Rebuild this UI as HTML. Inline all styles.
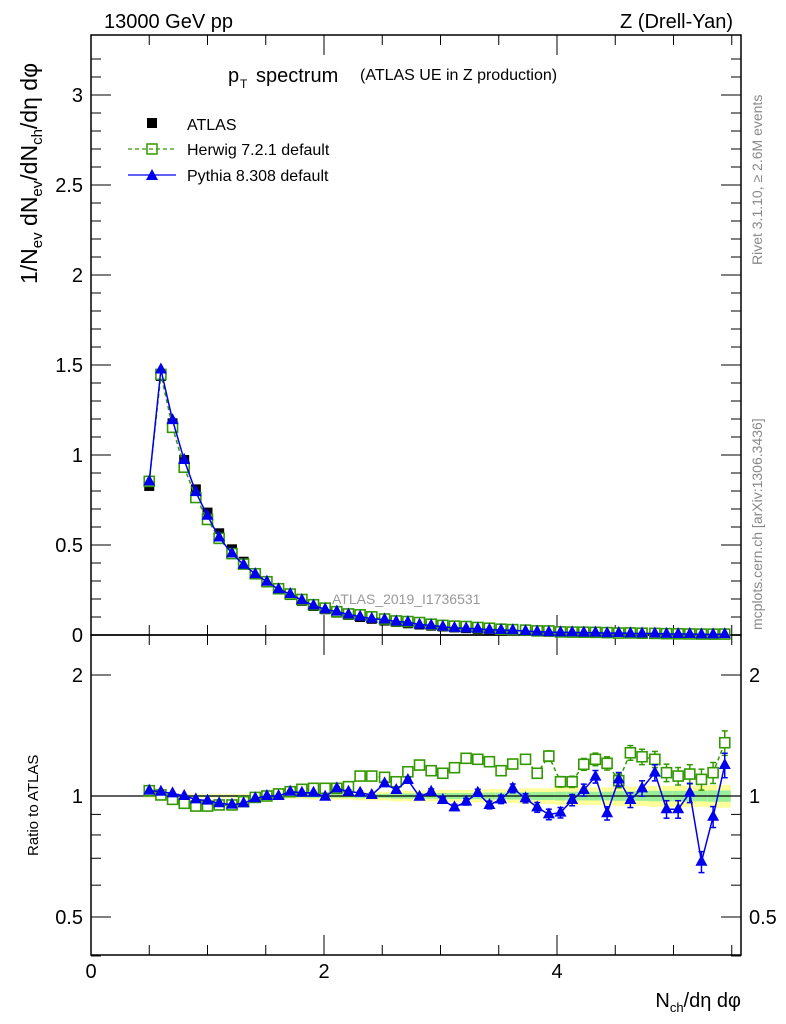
<!DOCTYPE html>
<html><head><meta charset="utf-8"><style>
body{margin:0;background:#fff}
svg{display:block;font-family:"Liberation Sans",sans-serif}
</style></head><body>
<svg id="c" width="786" height="1024" viewBox="0 0 786 1024">
<g id="bands"></g><g id="axes"></g><g id="marks"></g>
<text x="104" y="28" font-size="20">13000 GeV pp</text>
<text x="733" y="28" font-size="20" text-anchor="end">Z (Drell-Yan)</text>
<g>
<text x="228" y="82" font-size="20">p</text><text x="240" y="88" font-size="12">T</text>
<text x="256" y="82" font-size="20">spectrum</text>
<text x="360" y="80" font-size="16">(ATLAS UE in Z production)</text></g>
<g>
<rect x="147" y="118" width="10" height="10" fill="#000"/>
<text x="187" y="130" font-size="16">ATLAS</text>
<line x1="128" y1="149" x2="176" y2="149" stroke="#339900" stroke-dasharray="4,3" stroke-width="1.3"/>
<rect x="147" y="144" width="10" height="10" fill="none" stroke="#339900" stroke-width="1.5"/>
<text x="187" y="155" font-size="16">Herwig 7.2.1 default</text>
<line x1="128" y1="175" x2="176" y2="175" stroke="#0000ee" stroke-width="1.3"/>
<polygon points="152,169 146,180 158,180" fill="#0000ee"/>
<text x="187" y="181" font-size="16">Pythia 8.308 default</text></g>
<text x="332" y="604" font-size="14" fill="#999">ATLAS_2019_I1736531</text>
<text transform="translate(762,265) rotate(-90)" font-size="14" fill="#888">Rivet 3.1.10, ≥ 2.6M events</text>
<text transform="translate(762,630) rotate(-90)" font-size="14" fill="#888">mcplots.cern.ch [arXiv:1306.3436]</text>
<g transform="translate(37,284) rotate(-90)">
<text x="0" y="0" font-size="23">1/N<tspan font-size="15" dy="5">ev</tspan><tspan dy="-5"> dN</tspan><tspan font-size="15" dy="5">ev</tspan><tspan dy="-5">/dN</tspan><tspan font-size="15" dy="5">ch</tspan><tspan dy="-5">/dη dφ</tspan></text></g>
<text transform="translate(38,856) rotate(-90)" font-size="15">Ratio to ATLAS</text>
<text x="741" y="1007" font-size="20" text-anchor="end">N<tspan font-size="13" dy="5">ch</tspan><tspan dy="-5">/dη dφ</tspan></text>
</svg>
<script>
const xs=[0.50,0.60,0.70,0.80,0.90,1.00,1.10,1.21,1.31,1.41,1.51,1.61,1.71,1.81,1.91,2.01,2.11,2.21,2.31,2.41,2.52,2.62,2.72,2.82,2.92,3.02,3.12,3.22,3.32,3.42,3.52,3.62,3.73,3.83,3.93,4.03,4.13,4.23,4.33,4.43,4.53,4.63,4.73,4.84,4.94,5.04,5.14,5.24,5.34,5.44];
const atlas=[0.828,1.439,1.176,0.972,0.809,0.68,0.565,0.476,0.407,0.343,0.296,0.254,0.222,0.19,0.161,0.143,0.124,0.111,0.1,0.09,0.08,0.072,0.065,0.058,0.052,0.047,0.042,0.038,0.034,0.031,0.028,0.025,0.022,0.020,0.018,0.016,0.015,0.013,0.012,0.011,0.010,0.009,0.008,0.0072,0.0065,0.0058,0.0052,0.0047,0.0042,0.0038];
const pythiaRatio=[1.031,1.025,1.015,1.0,0.981,0.974,0.959,0.952,0.959,0.987,1.0,1.0,1.025,1.019,1.019,0.996,1.045,1.025,1.019,1.006,1.075,1.035,1.096,0.996,1.025,0.977,0.937,0.968,1.019,0.950,0.981,1.045,0.987,0.937,0.900,0.909,0.977,1.035,1.117,0.906,1.10,0.977,1.045,1.143,0.927,0.927,1.019,0.686,0.888,1.194];
const herwigRatio=[1.031,1.006,0.981,0.959,0.944,0.944,0.950,0.950,0.968,0.992,1.0,1.012,1.025,1.039,1.045,1.045,1.045,1.055,1.121,1.121,1.113,1.085,1.149,1.194,1.156,1.139,1.176,1.241,1.234,1.217,1.156,1.201,1.234,1.139,1.257,1.085,1.085,1.199,1.234,1.206,1.092,1.281,1.252,1.234,1.143,1.121,1.134,1.10,1.143,1.357];
const atlasErr=[0.01,0.01,0.01,0.01,0.01,0.01,0.01,0.01,0.01,0.01,0.015,0.015,0.015,0.015,0.02,0.02,0.02,0.02,0.025,0.025,0.025,0.03,0.03,0.03,0.03,0.035,0.035,0.035,0.035,0.04,0.04,0.04,0.045,0.045,0.045,0.05,0.05,0.05,0.05,0.05,0.055,0.055,0.055,0.06,0.06,0.06,0.06,0.06,0.065,0.065];
const mcErr=[0.005,0.005,0.005,0.005,0.005,0.005,0.005,0.005,0.005,0.006,0.006,0.007,0.007,0.008,0.008,0.008,0.009,0.01,0.01,0.011,0.012,0.013,0.014,0.015,0.016,0.017,0.018,0.019,0.02,0.022,0.024,0.025,0.026,0.028,0.03,0.03,0.032,0.034,0.036,0.038,0.04,0.042,0.044,0.046,0.05,0.05,0.055,0.06,0.06,0.07];
const mainTicks=[0,0.5,1,1.5,2,2.5,3];const mainLabels=["0","0.5","1","1.5","2","2.5","3"];
const ratioTicks=[0.5,1,2];const ratioLabels=["0.5","1","2"];
const xTicks=[0,2,4];const xLabels=["0","2","4"];
const NS="http://www.w3.org/2000/svg";
const L=91,R=741,T=35,M=635,B=955;
const X=v=>L+v*116.5;
const Y=v=>M-v*180;
const YR=v=>796-Math.log2(v)*121;
function el(p,t,a){const e=document.createElementNS(NS,t);for(const k in a)e.setAttribute(k,a[k]);document.getElementById(p).appendChild(e);return e;}
for(let i=0;i<xs.length;i++){
 const x0=i==0?X(xs[0])-6:(X(xs[i-1])+X(xs[i]))/2, x1=i==xs.length-1?X(xs[i])+6:(X(xs[i])+X(xs[i+1]))/2;
 let e=el('bands','rect',{x:x0,y:YR(1+atlasErr[i]),width:x1-x0,height:YR(1-atlasErr[i])-YR(1+atlasErr[i]),fill:'#ffff99'});
 
 
 e=el('bands','rect',{x:x0,y:YR(1+atlasErr[i]/2),width:x1-x0,height:YR(1-atlasErr[i]/2)-YR(1+atlasErr[i]/2),fill:'#99ee99'});
 
 
}
for(const [t,b] of [[T,M],[M,B]]){const f=el('axes','rect',{x:L,y:t,width:R-L,height:b-t,fill:'none',stroke:'#000','stroke-width':1.5});

}
el('axes','line',{x1:L,x2:R,y1:796,y2:796,stroke:'#000','stroke-width':1.2});
for(let v=0;v<=3.3;v+=0.1){const maj=Math.abs(v*2-Math.round(v*2))<1e-6;const len=maj?20:10;
 el('axes','line',{x1:L,x2:L+len,y1:Y(v),y2:Y(v),stroke:'#000'});el('axes','line',{x1:R,x2:R-len,y1:Y(v),y2:Y(v),stroke:'#000'});}
mainTicks.forEach((v,i)=>{const t=el('axes','text',{x:L-8,y:Y(v)+7,'font-size':20,'text-anchor':'end'});t.textContent=mainLabels[i];

});
[0.4,0.5,0.6,0.7,0.8,0.9,1,2].forEach(v=>{const maj=ratioTicks.includes(v);const len=maj?20:10;
 el('axes','line',{x1:L,x2:L+len,y1:YR(v),y2:YR(v),stroke:'#000'});el('axes','line',{x1:R,x2:R-len,y1:YR(v),y2:YR(v),stroke:'#000'});});
ratioTicks.forEach((v,i)=>{let t=el('axes','text',{x:L-8,y:YR(v)+7,'font-size':20,'text-anchor':'end'});t.textContent=ratioLabels[i];


t=el('axes','text',{x:R+8,y:YR(v)+7,'font-size':20});t.textContent=ratioLabels[i];

});
for(let v=0;v<=5.5;v+=0.5){const maj=Math.abs(v%2)<1e-6;const len=maj?20:10;
 for(const [t,b] of [[T,M],[M,B]]){el('axes','line',{x1:X(v),x2:X(v),y1:b,y2:b-len,stroke:'#000'});el('axes','line',{x1:X(v),x2:X(v),y1:t,y2:t+len,stroke:'#000'});}}
xTicks.forEach((v,i)=>{const t=el('axes','text',{x:X(v),y:978,'font-size':20,'text-anchor':'middle'});t.textContent=xLabels[i];

});
const herwigMain=xs.map((x,i)=>atlas[i]*herwigRatio[i]);
const pythiaMain=xs.map((x,i)=>atlas[i]*pythiaRatio[i]);
atlas.forEach((v,i)=>{const r=el('marks','rect',{x:X(xs[i])-5,y:Y(v)-5,width:10,height:10,fill:'#000'});

});
function series(vals,yf,color,dash,kind,name,errs){
 const pl=el('marks','polyline',{points:vals.map((v,i)=>X(xs[i])+','+yf(v)).join(' '),fill:'none',stroke:color,'stroke-width':1.5,'stroke-dasharray':dash});
 
 
 vals.forEach((v,i)=>{const x=X(xs[i]),y=yf(v);
  if(errs){const e=errs[i]*v;const y1=yf(v+e),y2=yf(Math.max(v-e,1e-3));
   el('marks','line',{x1:x,x2:x,y1:y1,y2:y2,stroke:color,'stroke-width':1.5});
   el('marks','line',{x1:x-3,x2:x+3,y1:y1,y2:y1,stroke:color,'stroke-width':1.5});
   el('marks','line',{x1:x-3,x2:x+3,y1:y2,y2:y2,stroke:color,'stroke-width':1.5});}
  let m;
  if(kind=='sq')m=el('marks','rect',{x:x-5,y:y-5,width:10,height:10,fill:'#fff',stroke:color,'stroke-width':1.6});
  else m=el('marks','polygon',{points:`${x},${y-7} ${x-6},${y+4} ${x+6},${y+4}`,fill:color});
  
  });
}
series(herwigMain,Y,'#339900','4,3','sq','herwig-main');
series(pythiaMain,Y,'#0000ee','','tri','pythia-main');
series(herwigRatio,YR,'#339900','4,3','sq','herwig-ratio',mcErr);
series(pythiaRatio,YR,'#0000ee','','tri','pythia-ratio',mcErr);
</script>
</body></html>
